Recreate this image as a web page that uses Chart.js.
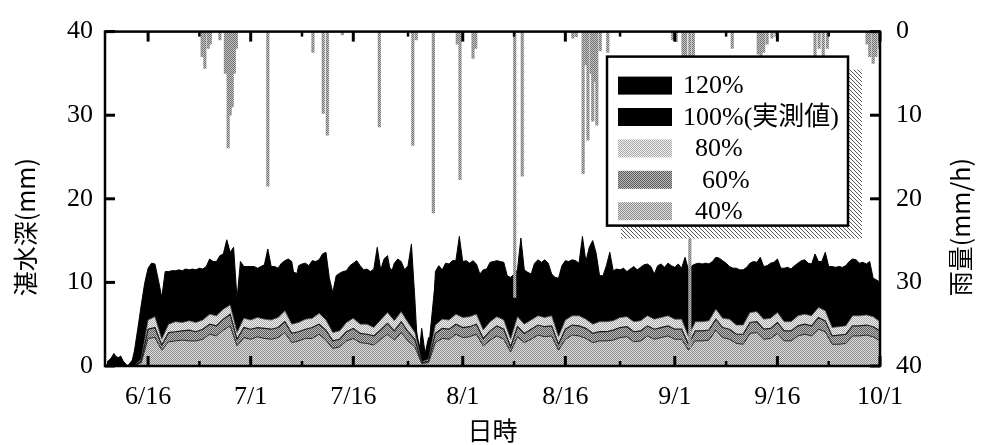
<!DOCTYPE html>
<html>
<head>
<meta charset="utf-8">
<script src="https://cdn.jsdelivr.net/npm/chart.js@4.4.0/dist/chart.umd.min.js"></script>
<style>
  body { margin: 0; background: #fff; }
  #wrap { width: 985px; height: 445px; }
</style>
</head>
<body>
<div id="wrap"><canvas id="myChart" width="985" height="445"></canvas></div>
<script>
// x values are days counted from 6/1 (6/16 = 15, 10/1 = 122)
const tickDays = [15, 30, 45, 61, 76, 92, 107, 122];
const tickLabels = ['6/16', '7/1', '7/16', '8/1', '8/16', '9/1', '9/16', '10/1'];
const minorDays = [22.5, 37.5, 53, 68.5, 84, 99.5, 114.5];
const depthTicks = [0, 10, 20, 30, 40];
const rainTicks = [0, 10, 20, 30, 40];

// series start at day 9; 120% read every half day, the others every day
const startDay = 9;

const depth120 = [
  0.2, 0.8, 1.5, 0.9, 1.2, 0.3, 0, 0, 1.8, 4.5,
  7.3, 9.9, 11.7, 12.3, 12.2, 10.3, 8.2, 11.3, 11.3, 11.4,
  11.4, 11.5, 11.4, 11.6, 11.5, 11.6, 11.5, 11.7, 11.6, 11.9,
  12.8, 12.5, 12.5, 13.2, 13.4, 15.1, 13.6, 14.2, 8.0, 12.5,
  11.9, 11.9, 11.9, 11.9, 11.7, 11.9, 12.1, 14.0, 11.9, 11.9,
  11.7, 12.3, 12.6, 12.8, 12.5, 10.0, 12.0, 12.2, 12.3, 12.0,
  12.6, 12.5, 12.7, 13.4, 13.6, 10.5, 8.8, 10.8, 11.1, 11.3,
  11.4, 12.0, 12.3, 12.6, 12.0, 11.5, 11.6, 11.3, 11.6, 14.2,
  11.5, 12.8, 13.2, 11.0, 12.3, 12.8, 12.5, 11.5, 12.0, 14.6,
  8.0, 0.5, 4.5, 1.5, 3.4, 2.0, 11.3, 12.0, 11.5, 12.3,
  12.2, 12.6, 12.6, 15.5, 12.5, 12.6, 12.3, 12.6, 12.2, 11.0,
  11.5, 11.6, 12.4, 12.5, 12.6, 12.5, 12.4, 10.8, 10.6, 11.0,
  11.5, 15.3, 11.5, 11.2, 11.0, 12.3, 12.7, 12.4, 12.7, 12.3,
  11.0, 10.6, 10.5, 12.0, 12.6, 12.5, 12.7, 12.6, 12.3, 15.5,
  12.5, 14.2, 15.0, 13.5, 10.8, 10.8, 12.0, 13.6, 11.4, 11.6,
  11.5, 11.7, 11.3, 11.6, 11.9, 11.5, 11.8, 12.1, 12.2, 11.9,
  11.0, 12.0, 12.2, 11.8, 12.3, 12.0, 11.8, 12.2, 11.7, 13.0,
  11.5, 12.0, 12.2, 12.3, 12.2, 12.3, 12.2, 12.5, 13.0, 12.9,
  12.6, 12.3, 11.9, 11.7, 11.7, 11.5, 11.5, 11.8, 12.3, 12.5,
  12.4, 13.0, 11.9, 12.0, 12.3, 12.4, 12.8, 11.7, 11.7, 11.8,
  11.6, 12.0, 12.3, 12.6, 12.7, 12.3, 12.2, 13.4, 12.5, 12.5,
  13.6, 11.9, 11.9, 11.8, 11.9, 11.8, 12.0, 12.5, 12.8, 12.7,
  12.3, 12.4, 12.2, 12.5, 10.5, 10.3, 10.0
];

const depth100 = [
  0.5, 1.2, 0.9, 0, 1.0, 6.0, 10.6, 11.0, 7.3, 10.3,
  10.4, 10.4, 10.5, 10.5, 10.6, 11.6, 11.4, 12.2, 12.4, 7.2,
  10.9, 10.8, 10.7, 11.0, 10.9, 10.7, 11.5, 11.3, 11.0, 11.2,
  11.5, 11.6, 12.0, 8.0, 10.1, 10.4, 11.2, 11.0, 10.6, 10.5,
  10.5, 12.0, 11.2, 11.4, 11.0, 5.0, 1.0, 2.0, 10.3, 10.5,
  11.1, 11.5, 11.4, 11.2, 11.1, 10.5, 11.3, 11.5, 11.3, 9.6,
  10.5, 10.5, 10.0, 11.6, 11.6, 10.0, 9.5, 11.5, 11.6, 11.2,
  11.4, 12.0, 9.8, 11.0, 10.4, 10.5, 10.3, 10.8, 10.7, 11.1,
  10.0, 11.1, 11.2, 10.8, 10.6, 10.5, 11.1, 11.1, 11.1, 11.9,
  11.5, 10.8, 10.6, 10.4, 11.2, 11.3, 10.8, 11.2, 11.7, 10.6,
  10.5, 11.2, 11.6, 11.1, 11.4, 12.4, 10.8, 10.8, 10.9, 11.7,
  11.2, 11.1, 9.5, 9.0
];

const depth80 = [
  0, 0, 0, 0, 0, 0.8, 5.5, 5.9, 3.2, 5.0,
  5.3, 5.2, 5.4, 5.2, 5.5, 6.2, 6.0, 6.8, 7.3, 4.0,
  5.7, 5.5, 5.8, 5.6, 5.5, 5.8, 6.6, 5.0, 5.2, 5.6,
  5.7, 6.3, 5.5, 4.0, 4.2, 5.2, 5.7, 5.0, 5.0, 4.6,
  5.5, 6.4, 5.4, 6.5, 5.2, 4.0, 0.5, 0.8, 4.9, 5.6,
  5.5, 6.2, 5.8, 5.9, 6.2, 4.3, 5.3, 5.9, 5.5, 3.2,
  5.9, 5.0, 5.5, 6.0, 5.8, 6.0, 3.5, 5.5, 6.0, 6.0,
  5.6, 5.0, 5.3, 5.3, 5.4, 5.8, 5.9, 5.3, 5.4, 6.0,
  5.6, 5.8, 6.0, 5.6, 5.6, 3.5, 5.3, 5.3, 5.4, 6.8,
  5.7, 5.6, 4.9, 4.9, 6.4, 6.5, 5.6, 5.7, 6.4, 5.3,
  5.3, 6.0, 6.2, 6.0, 7.0, 6.6, 4.6, 4.7, 4.8, 6.0,
  6.0, 6.1, 5.9, 5.3
];

const depth60 = [
  0, 0, 0, 0, 0, 0.6, 4.4, 4.6, 2.5, 4.0,
  4.1, 4.2, 4.3, 4.1, 4.4, 5.0, 4.8, 5.6, 6.2, 3.2,
  4.6, 4.4, 4.6, 4.5, 4.4, 4.6, 5.3, 3.9, 4.1, 4.4,
  4.6, 5.0, 4.3, 3.0, 3.2, 4.1, 4.5, 3.9, 3.8, 3.6,
  4.3, 5.1, 4.2, 5.3, 4.1, 3.2, 0.4, 0.6, 3.9, 4.5,
  4.4, 5.0, 4.6, 4.7, 5.0, 3.3, 4.2, 4.8, 4.4, 2.3,
  4.7, 3.9, 4.4, 4.9, 4.7, 4.8, 2.6, 4.4, 4.9, 4.8,
  4.5, 3.9, 4.1, 4.1, 4.3, 4.6, 4.7, 4.1, 4.2, 4.8,
  4.4, 4.6, 4.8, 4.4, 4.4, 2.6, 4.2, 4.2, 4.3, 5.6,
  4.6, 4.4, 3.8, 3.8, 5.2, 5.3, 4.4, 4.5, 5.2, 4.2,
  4.2, 4.8, 5.0, 4.8, 5.8, 5.4, 3.6, 3.7, 3.8, 4.8,
  4.8, 4.9, 4.7, 4.2
];

const depth40 = [
  0, 0, 0, 0, 0, 0.4, 3.3, 3.4, 1.9, 2.9,
  3.0, 3.1, 3.0, 3.0, 3.2, 3.8, 3.6, 4.3, 4.8, 2.4,
  3.4, 3.2, 3.5, 3.3, 3.2, 3.4, 4.0, 2.8, 3.0, 3.3,
  3.3, 3.8, 3.1, 2.1, 2.3, 3.0, 3.3, 2.8, 2.7, 2.5,
  3.2, 3.8, 3.1, 4.0, 3.0, 2.3, 0.3, 0.4, 2.8, 3.3,
  3.2, 3.8, 3.4, 3.5, 3.8, 2.4, 3.1, 3.6, 3.2, 1.7,
  3.5, 2.8, 3.2, 3.7, 3.5, 3.6, 1.9, 3.2, 3.7, 3.6,
  3.3, 2.8, 3.0, 3.0, 3.1, 3.4, 3.5, 2.9, 3.0, 3.6,
  3.2, 3.4, 3.6, 3.2, 3.2, 1.9, 3.0, 3.0, 3.1, 4.3,
  3.4, 3.2, 2.7, 2.6, 3.9, 4.0, 3.2, 3.3, 3.9, 3.0,
  3.0, 3.6, 3.8, 3.6, 4.4, 4.1, 2.6, 2.6, 2.7, 3.6,
  3.6, 3.7, 3.5, 3.0
];

const rainDays = [
  22.9, 23.3, 23.8, 24.1, 25.5, 26.3, 26.7, 27.0, 27.3, 27.6, 27.9,
  32.5, 39.1, 40.6, 41.2, 43.4, 48.8, 53.7, 54.2, 56.7, 60.2, 60.6,
  62.5, 62.9, 68.6, 69.7, 77.1, 77.6, 78.6, 79.0, 79.3, 79.8, 80.0,
  80.3, 80.6, 81.1, 82.2, 91.7, 92.2, 93.2, 93.6, 94.2, 94.7, 100.4,
  104.2, 104.6, 105.0, 105.5, 106.2, 106.8, 112.5, 113.1, 113.7, 114.3,
  120.1, 120.5, 121.0, 121.4, 121.9
];
const rainValues = [
  3.0, 4.4, 2.0, 1.5, 1.0, 5.0, 13.9, 10.0, 9.0, 5.0, 2.0,
  18.5, 2.5, 9.8, 12.4, 0.4, 11.4, 13.6, 1.0, 21.7, 1.5, 17.7,
  3.2, 2.0, 31.8, 17.3, 0.8, 0.6, 17.0, 4.0, 13.0, 5.0, 10.7,
  6.0, 11.2, 2.3, 2.5, 1.0, 1.2, 3.0, 5.0, 37.8, 3.0, 2.0,
  2.7, 3.0, 2.5, 1.5, 0.8, 0.6, 3.0, 2.0, 3.0, 2.0,
  1.5, 3.0, 3.8, 3.0, 2.0
];

const seriesLabels = ['120%', '100%(実測値)', '80%', '60%', '40%'];

// dithered greys like the printed figure
function dither(c1, c2) {
  const c = document.createElement('canvas');
  c.width = 2; c.height = 2;
  const g = c.getContext('2d');
  g.fillStyle = c2; g.fillRect(0, 0, 2, 2);
  g.fillStyle = c1; g.fillRect(0, 0, 1, 1); g.fillRect(1, 1, 1, 1);
  return g.createPattern(c, 'repeat');
}
function hatch() {
  const c = document.createElement('canvas');
  c.width = 4; c.height = 4;
  const g = c.getContext('2d');
  g.fillStyle = '#fff'; g.fillRect(0, 0, 4, 4);
  g.fillStyle = '#555';
  for (let i = 0; i < 4; i++) g.fillRect(i, i, 1, 1);
  return g.createPattern(c, 'repeat');
}

const fill80 = dither('#a8a8a8', '#f2f2f2');
const fill60 = dither('#5a5a5a', '#bcbcbc');
const fill40 = dither('#8c8c8c', '#dedede');
const fillRain = dither('#707070', '#c4c4c4');

const pts = (arr, step) => arr.map((v, i) => ({x: startDay + i * step, y: v}));

const lineBase = {type: 'line', yAxisID: 'y', fill: 'origin', pointRadius: 0, tension: 0};

const frame = {
  id: 'frame',
  afterDatasetsDraw(chart) {
    const {ctx, chartArea: a, scales} = chart;
    ctx.save();
    ctx.strokeStyle = '#000';
    const seg = (x1, y1, x2, y2) => { ctx.beginPath(); ctx.moveTo(x1, y1); ctx.lineTo(x2, y2); ctx.stroke(); };
    ctx.lineWidth = 3;
    tickDays.forEach(d => {
      const x = scales.x.getPixelForValue(d);
      seg(x, a.bottom, x, a.bottom - 10);
      seg(x, a.top, x, a.top + 10);
    });
    ctx.lineWidth = 2.5;
    minorDays.forEach(d => {
      const x = scales.x.getPixelForValue(d);
      seg(x, a.bottom, x, a.bottom - 5);
      seg(x, a.top, x, a.top + 5);
    });
    ctx.lineWidth = 3;
    depthTicks.forEach(v => { const y = scales.y.getPixelForValue(v); seg(a.left, y, a.left + 10, y); });
    rainTicks.forEach(v => { const y = scales.y2.getPixelForValue(v); seg(a.right, y, a.right - 10, y); });
    ctx.lineWidth = 2.5;
    ctx.strokeRect(a.left, a.top, a.right - a.left, a.bottom - a.top);

    // vertical axis titles, both read bottom to top
    ctx.fillStyle = '#000';
    ctx.font = "25px 'Noto Sans CJK JP'";
    ctx.textAlign = 'center';
    ctx.textBaseline = 'middle';
    const midY = a.top + (a.bottom - a.top) * 0.585;
    [[25, '湛水深(mm)'], [960, '雨量(mm/h)']].forEach(([x, txt]) => {
      ctx.save();
      ctx.translate(x, midY);
      ctx.rotate(-Math.PI / 2);
      ctx.fillText(txt, 0, 0);
      ctx.restore();
    });
    ctx.restore();
  },
  afterDraw(chart) {
    const {ctx, chartArea: a} = chart;
    const bx = a.right - 273, by = a.top + 25, bw = 241, bh = 169;
    ctx.save();
    ctx.fillStyle = hatch();
    ctx.fillRect(bx + 14, by + 13, bw, bh);
    ctx.fillStyle = '#fff';
    ctx.fillRect(bx, by, bw, bh);
    ctx.strokeStyle = '#000';
    ctx.lineWidth = 2.5;
    ctx.strokeRect(bx, by, bw, bh);
    const textX = [76, 76, 88, 95, 88];
    ctx.font = "26px 'Liberation Serif', 'Noto Sans CJK JP'";
    ctx.textBaseline = 'middle';
    ctx.textAlign = 'left';
    // datasets 5..1 are 120% .. 40%
    [5, 4, 3, 2, 1].forEach((di, row) => {
      const ds = chart.data.datasets[di];
      const cy = by + 29 + row * 31.4;
      ctx.fillStyle = ds.backgroundColor;
      ctx.fillRect(bx + 11, cy - 9, 54, 18);
      ctx.fillStyle = '#000';
      ctx.fillText(ds.label, bx + textX[row], cy + 1);
    });
    ctx.restore();
  }
};

new Chart(document.getElementById('myChart'), {
  data: {
    datasets: [
      {type: 'bar', label: '雨量', yAxisID: 'y2', order: 0,
       data: rainDays.map((d, i) => ({x: d, y: rainValues[i]})),
       backgroundColor: fillRain, barThickness: 2.5, grouped: false},
      {...lineBase, label: seriesLabels[4], order: 1, data: pts(depth40, 1),
       backgroundColor: fill40, borderColor: '#2a2a2a', borderWidth: 1},
      {...lineBase, label: seriesLabels[3], order: 2, data: pts(depth60, 1),
       backgroundColor: fill60, borderColor: '#1a1a1a', borderWidth: 1.2},
      {...lineBase, label: seriesLabels[2], order: 3, data: pts(depth80, 1),
       backgroundColor: fill80, borderColor: '#555', borderWidth: 0.8},
      {...lineBase, label: seriesLabels[1], order: 4, data: pts(depth100, 1),
       backgroundColor: '#000', borderColor: '#000', borderWidth: 1},
      {...lineBase, label: seriesLabels[0], order: 5, data: pts(depth120, 0.5),
       backgroundColor: '#000', borderColor: '#000', borderWidth: 1}
    ]
  },
  options: {
    responsive: false,
    animation: false,
    layout: {padding: {top: 20, left: 0, right: 0, bottom: 0}},
    plugins: {legend: {display: false}, tooltip: {enabled: false}},
    scales: {
      x: {
        type: 'linear', min: 8.7, max: 122, offset: false,
        grid: {display: false, drawTicks: false, offset: false}, border: {display: false},
        afterBuildTicks: s => { s.ticks = tickDays.map(v => ({value: v})); },
        afterFit: s => { s.height = 79; },
        ticks: {
          autoSkip: false, maxRotation: 0, padding: 16, color: '#000',
          font: {family: "'Liberation Serif', serif", size: 26},
          callback: v => tickLabels[tickDays.indexOf(v)]
        },
        title: {display: true, text: '日時', color: '#000', padding: {top: 0, bottom: 0},
                font: {family: "'Noto Sans CJK JP'", size: 25}}
      },
      y: {
        position: 'left', min: 0, max: 40,
        grid: {display: false, drawTicks: false}, border: {display: false},
        afterFit: s => { s.width = 105; },
        ticks: {stepSize: 10, padding: 12, color: '#000',
                font: {family: "'Liberation Serif', serif", size: 26}}
      },
      y2: {
        position: 'right', min: 0, max: 40, reverse: true,
        grid: {display: false, drawTicks: false}, border: {display: false},
        afterFit: s => { s.width = 105; },
        ticks: {stepSize: 10, padding: 16, color: '#000',
                font: {family: "'Liberation Serif', serif", size: 26}}
      }
    }
  },
  plugins: [frame]
});
</script>
</body>
</html>
